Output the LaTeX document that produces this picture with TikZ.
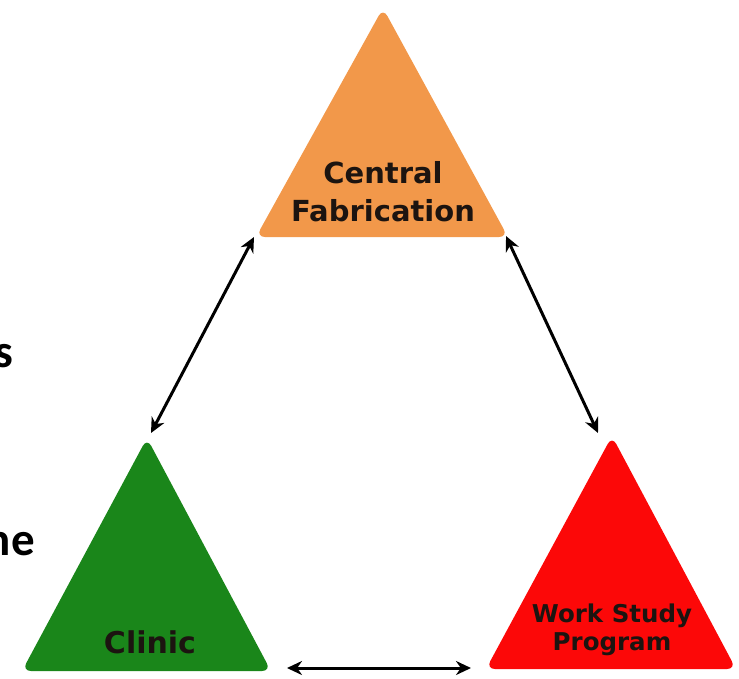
\documentclass[tikz,border=0pt]{standalone}
\usepackage{fontspec}
\usetikzlibrary{arrows.meta}
\newfontfamily\labfont{DejaVu Sans}
\newfontfamily\fragfont{Carlito}
\definecolor{orangetri}{RGB}{242,152,74}
\definecolor{greentri}{RGB}{26,134,26}
\definecolor{redtri}{RGB}{252,8,8}
\definecolor{labtext}{RGB}{28,20,16}
\begin{document}
\begin{tikzpicture}[x=1pt,y=-1pt,
  tri/.style={rounded corners=9pt},
  lab/.style={anchor=base,inner sep=0pt,text=labtext,font=\labfont\bfseries},
  frag/.style={anchor=base east,inner sep=0pt,font=\fragfont\bfseries\fontsize{47}{50}\selectfont},
  link/.style={line width=3pt,{Stealth[length=15pt,width=14pt]}-{Stealth[length=15pt,width=14pt]}}]
\useasboundingbox (0,0) rectangle (739,678);
\clip (0,0) rectangle (739,678);
% triangles
\fill[orangetri,tri] (383,8) -- (508,237) -- (256,237) -- cycle;
\fill[greentri,tri] (147,438) -- (271,671) -- (22,671) -- cycle;
\fill[redtri,tri] (612,436) -- (736,669) -- (486,669) -- cycle;
% labels
\node[lab,font=\labfont\bfseries\fontsize{29}{32}\selectfont] (cf1) at (383,183) {Central};
\node[lab,font=\labfont\bfseries\fontsize{29}{32}\selectfont] (cf2) at (383,221) {Fabrication};
\node[lab,font=\labfont\bfseries\fontsize{30}{32}\selectfont] (cl) at (150,653) {Clinic};
\node[lab,font=\labfont\bfseries\fontsize{24.5}{28}\selectfont] (ws1) at (612,622) {Work Study};
\node[lab,font=\labfont\bfseries\fontsize{24.5}{28}\selectfont] (ws2) at (612,650) {Program};
% fragments of cut-off text
\node[frag] (fs) at (13,367) {s};
\node[frag] (fne) at (35,555) {ne};
% connector ends
\coordinate (cfL) at (254,237);
\coordinate (clT) at (151,433);
\coordinate (cfR) at (506,236);
\coordinate (wsT) at (598,433);
\coordinate (clR) at (287,668);
\coordinate (wsL) at (471,668);
\draw[link] (cfL) -- (clT);
\draw[link] (cfR) -- (wsT);
\draw[link] (clR) -- (wsL);
\end{tikzpicture}
\end{document}
